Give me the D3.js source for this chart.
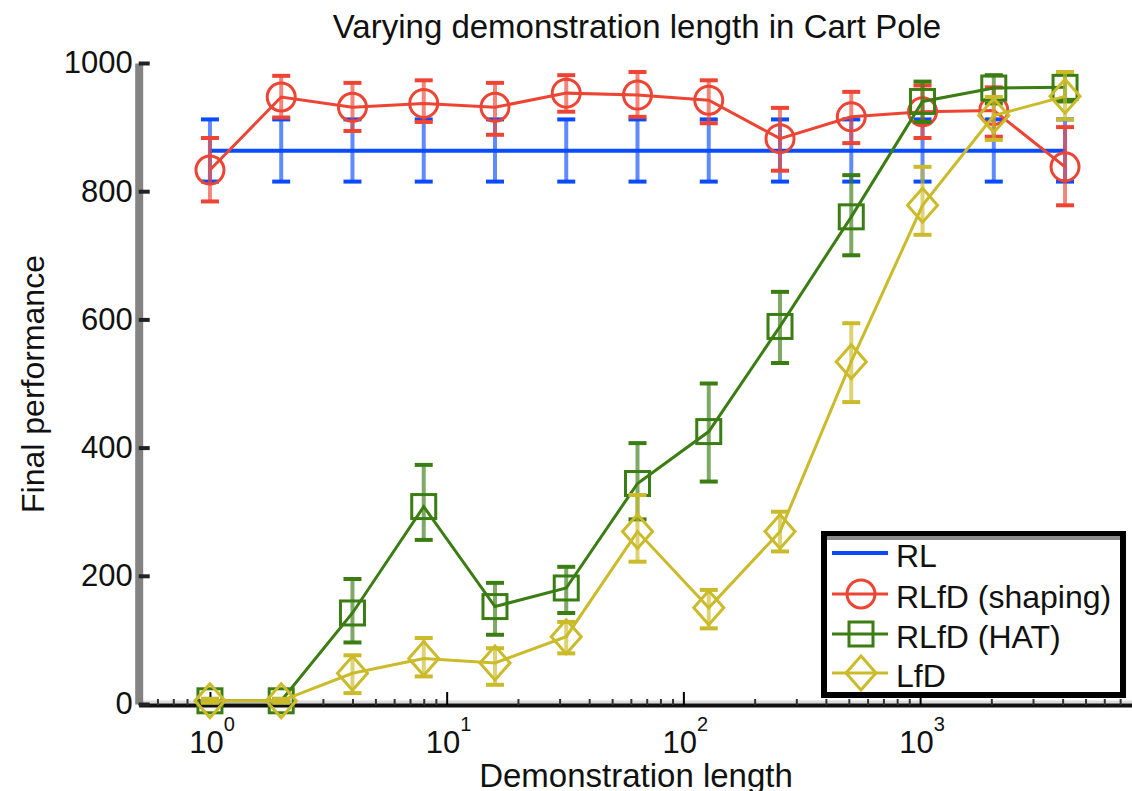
<!DOCTYPE html>
<html>
<head>
<meta charset="utf-8">
<script src="https://cdn.jsdelivr.net/npm/d3@7"></script>
<style>
  body { margin: 0; background: #fff; }
  svg { display: block; font-family: "Liberation Sans", Arial, sans-serif; }
</style>
</head>
<body>
<script>
// demonstration lengths (x) and the four runs
var lengths = [1, 2, 4, 8, 16, 32, 64, 128, 256, 512, 1024, 2048, 4096];

var rlMean = [863, 863, 863, 863, 863, 863, 863, 863, 863, 863, 863, 863, 863];
var rlLo   = [815, 815, 815, 815, 815, 815, 815, 815, 815, 815, 815, 815, 815];
var rlHi   = [912, 912, 912, 912, 912, 912, 912, 912, 912, 912, 912, 912, 912];

var shapingMean = [833, 947, 931, 937, 931, 953, 950, 942, 882, 916, 924, 926, 838];
var shapingLo   = [784, 915, 894, 908, 888, 924, 916, 906, 832, 875, 883, 885, 778];
var shapingHi   = [883, 980, 969, 973, 969, 981, 986, 973, 930, 955, 965, 962, 900];

var hatMean = [5, 5, 142, 308, 152, 181, 344, 425, 589, 760, 940, 961, 962];
var hatLo   = [2, 2, 96, 256, 108, 142, 288, 347, 532, 700, 908, 937, 940];
var hatHi   = [8, 8, 195, 373, 189, 214, 407, 500, 643, 825, 971, 981, 986];

var lfdMean = [5, 5, 48, 71, 64, 105, 269, 150, 269, 534, 778, 918, 948];
var lfdLo   = [2, 2, 17, 43, 30, 79, 222, 118, 238, 471, 732, 880, 912];
var lfdHi   = [8, 8, 76, 103, 87, 128, 326, 178, 300, 594, 838, 947, 986];

var seriesNames = ["RL", "RLfD (shaping)", "RLfD (HAT)", "LfD"];
var yTicks = [0, 200, 400, 600, 800, 1000];
var xMajor = [1, 10, 100, 1000];
var xExp = ["0", "1", "2", "3"];

var colors = ["#0a4bff", "#ee4433", "#3a7d12", "#cbbb2a"];
var markers = ["none", "circle", "square", "diamond"];

var W = 1132, H = 791;

var x = d3.scaleLog().domain([0.5, 8192]).range([138.7, 1136.3]);
var y = d3.scaleLinear().domain([0, 1000]).range([704, 63]);

var svg = d3.select("body").append("svg")
    .attr("width", W)
    .attr("height", H);

function rows(mean, lo, hi) {
  return lengths.map(function(d, i) { return {x: d, m: mean[i], lo: lo[i], hi: hi[i]}; });
}

var series = [
  rows(rlMean, rlLo, rlHi),
  rows(shapingMean, shapingLo, shapingHi),
  rows(hatMean, hatLo, hatHi),
  rows(lfdMean, lfdLo, lfdHi)
];

// x axis (log, ticks point inward)
var minor = [];
for (var e = -1; e < 4; e++) {
  for (var k = 2; k < 10; k++) {
    var v = k * Math.pow(10, e);
    if (v >= 0.5 && v <= 8192) minor.push(v);
  }
}

svg.append("line")
    .attr("x1", x(0.5)).attr("x2", x(8192))
    .attr("y1", 702).attr("y2", 702)
    .attr("stroke", "#dcdcdc").attr("stroke-width", 3);

var gx = svg.append("g")
    .attr("transform", "translate(0,705)")
    .call(d3.axisBottom(x).tickValues(minor).tickSize(-6).tickSizeOuter(0).tickFormat(""));
gx.select(".domain").attr("stroke", "#111").attr("stroke-width", 4);
gx.selectAll(".tick line").attr("stroke", "#333").attr("stroke-width", 2);

var gxm = svg.append("g")
    .attr("transform", "translate(0,705)")
    .call(d3.axisBottom(x).tickValues(xMajor).tickSize(-13).tickSizeOuter(0).tickFormat(""));
gxm.select(".domain").remove();
gxm.selectAll(".tick line").attr("stroke", "#000").attr("stroke-width", 2);

var xl = svg.selectAll(".xlab")
    .data(xMajor)
  .enter().append("text")
    .attr("class", "xlab")
    .attr("x", function(d) { return x(d) + 2; })
    .attr("y", 753)
    .attr("text-anchor", "middle")
    .attr("font-size", 31)
    .attr("fill", "#111");
xl.append("tspan").text("10");
xl.append("tspan")
    .attr("dy", -22)
    .attr("font-size", 20)
    .text(function(d, i) { return xExp[i]; });

// y axis
var gy = svg.append("g")
    .attr("transform", "translate(" + x(0.5) + ",0)")
    .call(d3.axisLeft(y).tickValues(yTicks).tickFormat(d3.format("d"))
      .tickSize(-11).tickSizeOuter(0).tickPadding(6));
gy.select(".domain").attr("stroke", "#838383").attr("stroke-width", 8);
gy.selectAll(".tick line").attr("stroke", "#222").attr("stroke-width", 4);
gy.selectAll(".tick text")
    .attr("font-size", 31)
    .attr("fill", "#111")
    .attr("font-family", "Liberation Sans, Arial, sans-serif");

// titles
svg.append("text")
    .attr("x", 637).attr("y", 38)
    .attr("text-anchor", "middle")
    .attr("font-size", 33)
    .attr("fill", "#111")
    .text("Varying demonstration length in Cart Pole");

svg.append("text")
    .attr("x", 636).attr("y", 787)
    .attr("text-anchor", "middle")
    .attr("font-size", 33)
    .attr("fill", "#111")
    .text("Demonstration length");

svg.append("text")
    .attr("transform", "translate(44," + 384 + ") rotate(-90)")
    .attr("text-anchor", "middle")
    .attr("font-size", 32)
    .attr("fill", "#111")
    .text("Final performance");

// markers
function marker(g, type, color) {
  if (type === "circle") {
    g.append("circle").attr("r", 14)
        .attr("fill", "none").attr("stroke", color).attr("stroke-width", 3);
  } else if (type === "square") {
    g.append("rect").attr("x", -12).attr("y", -12).attr("width", 24).attr("height", 24)
        .attr("fill", "none").attr("stroke", color).attr("stroke-width", 3);
  } else if (type === "diamond") {
    g.append("path").attr("d", "M0,-17L15,0L0,17L-15,0Z")
        .attr("fill", "none").attr("stroke", color).attr("stroke-width", 3);
  }
}

var line = d3.line()
    .x(function(d) { return x(d.x); })
    .y(function(d) { return y(d.m); });

series.forEach(function(s, i) {
  var g = svg.append("g");
  var c = colors[i];

  // error bars
  g.selectAll(".eb")
      .data(s)
    .enter().append("line")
      .attr("x1", function(d) { return x(d.x); })
      .attr("x2", function(d) { return x(d.x); })
      .attr("y1", function(d) { return y(d.lo); })
      .attr("y2", function(d) { return y(d.hi); })
      .attr("stroke", c).attr("stroke-width", 4).attr("stroke-opacity", 0.65);

  ["lo", "hi"].forEach(function(key) {
    g.selectAll(".cap" + key)
        .data(s)
      .enter().append("line")
        .attr("x1", function(d) { return x(d.x) - 9; })
        .attr("x2", function(d) { return x(d.x) + 9; })
        .attr("y1", function(d) { return y(d[key]); })
        .attr("y2", function(d) { return y(d[key]); })
        .attr("stroke", c).attr("stroke-width", 4);
  });

  g.append("path")
      .datum(s)
      .attr("d", line)
      .attr("fill", "none")
      .attr("stroke", c)
      .attr("stroke-width", i === 0 ? 4 : 3);

  g.selectAll(".mk")
      .data(s)
    .enter().append("g")
      .attr("transform", function(d) { return "translate(" + x(d.x) + "," + y(d.m) + ")"; })
      .each(function() { marker(d3.select(this), markers[i], c); });
});

// legend
var lg = svg.append("g");
lg.append("rect")
    .attr("x", 824).attr("y", 534)
    .attr("width", 299).attr("height", 161)
    .attr("fill", "#fff").attr("stroke", "#000").attr("stroke-width", 6);
lg.append("line")
    .attr("x1", 827).attr("x2", 1120)
    .attr("y1", 538).attr("y2", 538)
    .attr("stroke", "#8a8a8a").attr("stroke-width", 4);

var legendY = [553, 594, 634, 673];
seriesNames.forEach(function(name, i) {
  var row = lg.append("g").attr("transform", "translate(0," + legendY[i] + ")");
  row.append("line")
      .attr("x1", 832).attr("x2", 888)
      .attr("stroke", colors[i]).attr("stroke-width", i === 0 ? 4 : 3);
  var m = row.append("g").attr("transform", "translate(861,0)");
  marker(m, markers[i], colors[i]);
  row.append("text")
      .attr("x", 896).attr("y", 14)
      .attr("font-size", 32)
      .attr("fill", "#111")
      .text(name);
});
</script>
</body>
</html>
